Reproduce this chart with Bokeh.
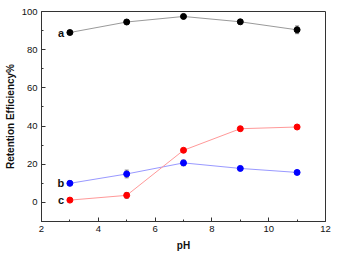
from bokeh.plotting import figure
from bokeh.models import Range1d, FixedTicker, Whisker, ColumnDataSource
from bokeh.core.properties import value
from bokeh.embed import file_html
from bokeh.resources import INLINE

ph = [3, 5, 7, 9, 11]
series_a = [89.0, 94.5, 97.4, 94.6, 90.4]
series_b = [10.0, 14.9, 20.7, 17.8, 15.7]
series_c = [1.2, 3.7, 27.3, 38.6, 39.5]
err_a = [1.0, 1.0, 1.0, 1.2, 2.0]
err_b = [1.2, 2.0, 1.5, 1.0, 1.0]
err_c = [0.5, 1.5, 1.0, 1.0, 1.0]
names = ["a", "b", "c"]
x_ticks = [2, 4, 6, 8, 10, 12]
y_ticks = [0, 20, 40, 60, 80, 100]

FONT = "Liberation Sans"

p = figure(width=339, height=258, output_backend="svg", toolbar_location=None,
           x_range=Range1d(2, 12), y_range=Range1d(-10, 100),
           min_border_left=41, min_border_right=14, min_border_top=11, min_border_bottom=37)
p.xgrid.visible = False
p.ygrid.visible = False
p.outline_line_color = "#333333"
p.outline_line_width = 1
p.background_fill_color = "white"
p.border_fill_color = "white"

p.xaxis.ticker = FixedTicker(ticks=x_ticks, minor_ticks=[3, 5, 7, 9, 11])
p.yaxis.ticker = FixedTicker(ticks=y_ticks, minor_ticks=[-10, 10, 30, 50, 70, 90])
for ax in (p.xaxis[0], p.yaxis[0]):
    ax.major_tick_in = 4
    ax.major_tick_out = 0
    ax.minor_tick_in = 2
    ax.minor_tick_out = 0
    ax.axis_line_color = "#333333"
    ax.major_tick_line_color = "#333333"
    ax.minor_tick_line_color = "#333333"
    ax.major_label_text_font = FONT
    ax.major_label_text_font_size = "9.5px"
    ax.major_label_text_color = "#111111"
    ax.axis_label_text_font = FONT
    ax.axis_label_text_font_size = "10px"
    ax.axis_label_text_font_style = "bold"
    ax.axis_label_text_color = "#111111"
p.xaxis.axis_label = "pH"
p.yaxis.axis_label = "Retention Efficiency%"
p.xaxis.major_label_standoff = 4
p.yaxis.major_label_standoff = 4
p.xaxis.axis_label_standoff = 5
p.yaxis.axis_label_standoff = 3

specs = [
    (series_a, err_a, "black", "#9a9a9a"),
    (series_b, err_b, "#0000ff", "#9999ff"),
    (series_c, err_c, "#ff0000", "#ff9999"),
]
for name, (ys, es, mc, lc) in zip(names, specs):
    src = ColumnDataSource(dict(x=ph, y=ys,
                                lo=[y - e for y, e in zip(ys, es)],
                                hi=[y + e for y, e in zip(ys, es)]))
    p.line("x", "y", source=src, line_color=lc, line_width=1)
    w = Whisker(source=src, base="x", lower="lo", upper="hi", line_color="#777777",
                line_width=1)
    w.upper_head.size = 4
    w.lower_head.size = 4
    w.upper_head.line_color = "#777777"
    w.lower_head.line_color = "#777777"
    p.add_layout(w)
    p.scatter("x", "y", source=src, size=6, fill_color=mc, line_color=mc)
    p.text(x=[ph[0] - 0.2], y=[ys[0]], text=[name], text_align="right",
           text_baseline="middle", text_font=value(FONT), text_font_style="bold",
           text_font_size="11px", text_color="#111111")

open("out.html", "w").write(file_html(p, INLINE))
